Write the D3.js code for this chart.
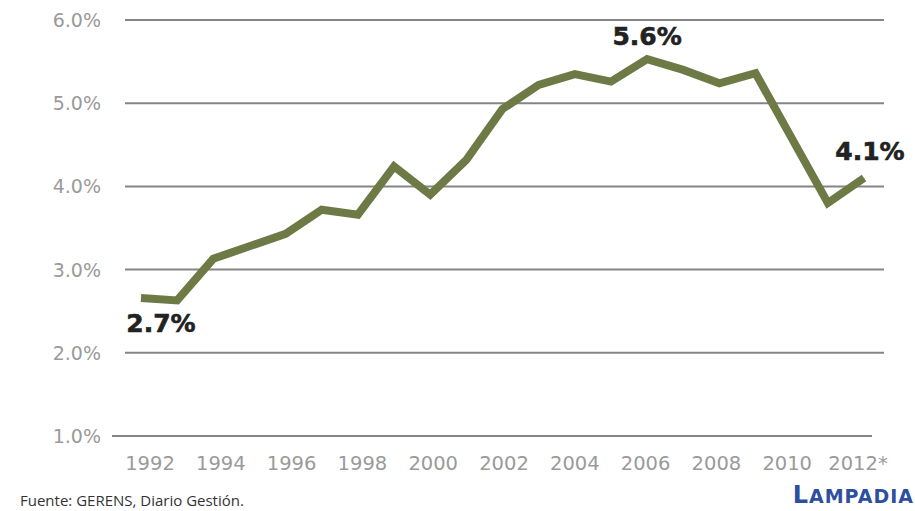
<!DOCTYPE html>
<html>
<head>
<meta charset="utf-8">
<script src="https://cdn.jsdelivr.net/npm/d3@7"></script>
<style>
  html, body { margin: 0; padding: 0; background: #fff; }
  svg { display: block; }
</style>
</head>
<body>
<div id="container"></div>
<script>
const years = [1992, 1993, 1994, 1995, 1996, 1997, 1998, 1999, 2000, 2001, 2002,
               2003, 2004, 2005, 2006, 2007, 2008, 2009, 2010, 2011, 2012];
const rates = [2.66, 2.63, 3.13, 3.28, 3.43, 3.72, 3.66, 4.24, 3.9, 4.32, 4.93,
               5.22, 5.35, 5.26, 5.53, 5.4, 5.24, 5.36, 4.58, 3.8, 4.1];
const yTicks = [1, 2, 3, 4, 5, 6];
const xTickYears = [1992, 1994, 1996, 1998, 2000, 2002, 2004, 2006, 2008, 2010, 2012];
const xTickLabels = ['1992', '1994', '1996', '1998', '2000', '2002', '2004', '2006', '2008', '2010', '2012*'];
const callouts = [
  { year: 1992, value: 2.7, text: '2.7%' },
  { year: 2006, value: 5.6, text: '5.6%' },
  { year: 2012, value: 4.1, text: '4.1%' }
];

const width = 915;
const height = 511;

const svg = d3.select('#container').append('svg')
  .attr('width', width)
  .attr('height', height);

const yScale = d3.scaleLinear()
  .domain([1, 6])
  .range([436, 20]);

// the line and the year labels sit on slightly different grids in the original
const xScale = d3.scaleLinear()
  .domain([1992, 2012])
  .range([141, 864]);

const xLabelScale = d3.scaleLinear()
  .domain([1992, 2012])
  .range([150, 858]);

// gridlines
svg.append('g')
  .selectAll('line')
  .data(yTicks)
  .enter()
  .append('line')
  .attr('x1', d => d === 1 ? 112 : 125)
  .attr('x2', d => d === 1 ? 872 : 884)
  .attr('y1', d => yScale(d))
  .attr('y2', d => yScale(d))
  .attr('stroke', '#858585')
  .attr('stroke-width', 2);

// y labels
svg.append('g')
  .selectAll('text')
  .data(yTicks)
  .enter()
  .append('text')
  .attr('x', 101)
  .attr('y', d => yScale(d) + 7)
  .attr('text-anchor', 'end')
  .attr('font-family', 'DejaVu Sans, sans-serif')
  .attr('font-size', 19)
  .attr('fill', '#9a9a9a')
  .text(d => d3.format('.1f')(d) + '%');

// x labels
svg.append('g')
  .selectAll('text')
  .data(xTickYears)
  .enter()
  .append('text')
  .attr('x', d => xLabelScale(d))
  .attr('y', 470)
  .attr('text-anchor', 'middle')
  .attr('font-family', 'DejaVu Sans, sans-serif')
  .attr('font-size', 19.5)
  .attr('fill', '#9a9a9a')
  .text((d, i) => xTickLabels[i]);

// line
const line = d3.line()
  .x((d, i) => xScale(years[i]))
  .y(d => yScale(d));

svg.append('path')
  .datum(rates)
  .attr('d', line)
  .attr('fill', 'none')
  .attr('stroke', '#6e7a45')
  .attr('stroke-width', 8)
  .attr('stroke-linejoin', 'miter')
  .attr('stroke-linecap', 'butt');

// callouts
const offsets = { 1992: [20, 34], 2006: [0, -14], 2012: [6, -18] };
svg.append('g')
  .selectAll('text')
  .data(callouts)
  .enter()
  .append('text')
  .attr('x', d => xScale(d.year) + offsets[d.year][0])
  .attr('y', d => yScale(rates[years.indexOf(d.year)]) + offsets[d.year][1])
  .attr('text-anchor', 'middle')
  .attr('font-family', 'DejaVu Sans, sans-serif')
  .attr('font-weight', 'bold')
  .attr('font-size', 25)
  .attr('fill', '#222')
  .attr('stroke', '#222')
  .attr('stroke-width', 0.6)
  .text(d => d.text);

// source
svg.append('text')
  .attr('x', 20)
  .attr('y', 506)
  .attr('font-family', 'Open Sans, sans-serif')
  .attr('font-size', 15)
  .attr('fill', '#333')
  .text('Fuente: GERENS, Diario Gestión.');

const brand = svg.append('text')
  .attr('x', 914)
  .attr('y', 503)
  .attr('text-anchor', 'end')
  .attr('font-family', 'DejaVu Sans, sans-serif')
  .attr('font-weight', 'bold')
  .attr('letter-spacing', 1)
  .attr('fill', '#2d4f9e');
brand.append('tspan').attr('font-size', 24).text('L');
brand.append('tspan').attr('font-size', 19).text('AMPADIA');
</script>
</body>
</html>
